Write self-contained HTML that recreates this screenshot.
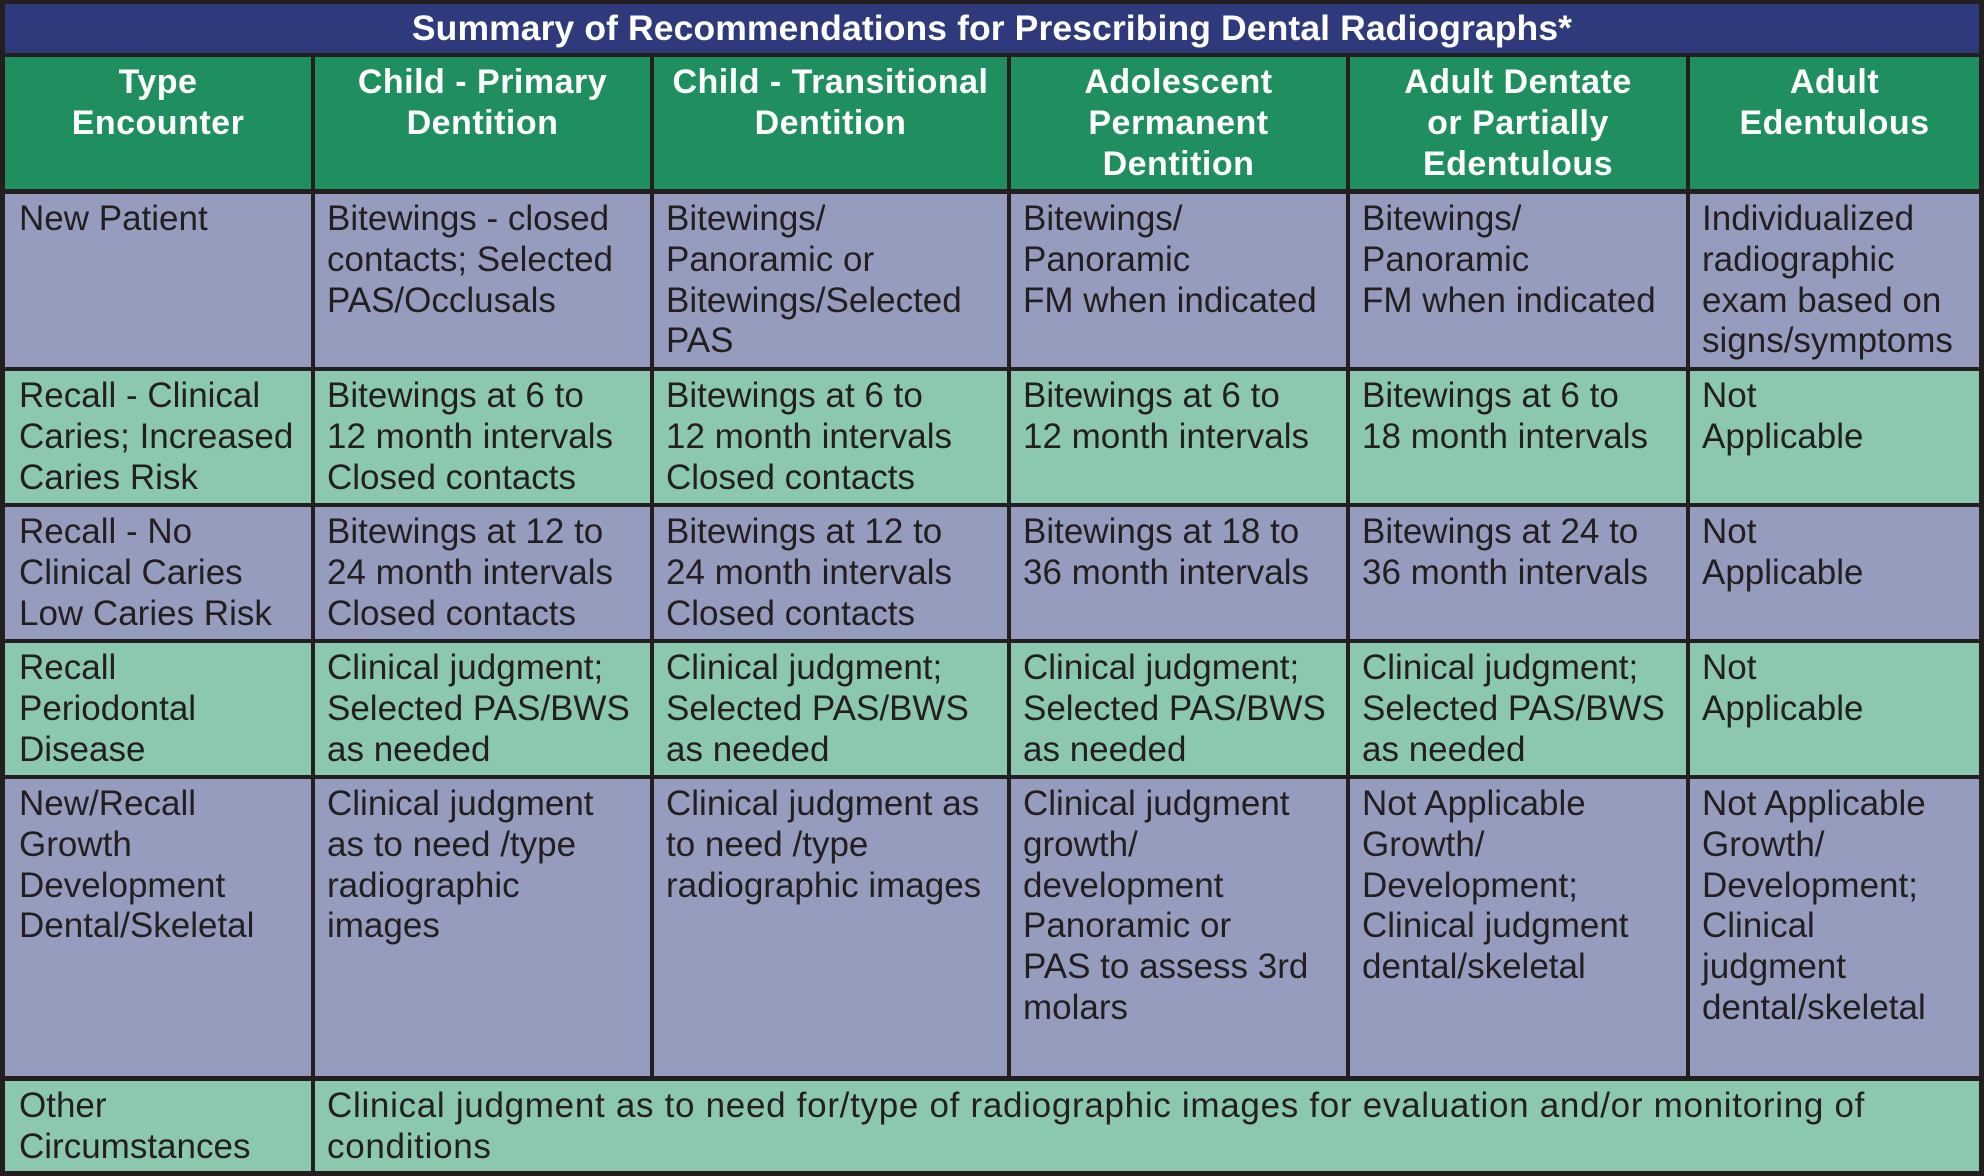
<!DOCTYPE html>
<html>
<head>
<meta charset="utf-8">
<style>
html,body{margin:0;padding:0;}
body{width:1984px;height:1176px;background:#231f20;position:relative;overflow:hidden;font-family:"Liberation Sans",Arial,sans-serif;}
.c{position:absolute;box-sizing:border-box;white-space:nowrap;overflow:hidden;}
.t{background:#2e3a7b;color:#fff;font-weight:bold;font-size:35.5px;letter-spacing:0.1px;text-align:center;line-height:49px;padding-top:0px;}
.h{background:#1f8f60;color:#fff;font-weight:bold;font-size:34px;letter-spacing:0.5px;text-align:center;line-height:41px;padding-top:5px;}
.l{background:#959cbe;}
.g{background:#8cc8ae;}
.l,.g{color:#231f20;font-size:35px;line-height:40.8px;padding:5px 0 0 12px;}
</style>
</head>
<body>
<!-- title -->
<div class="c t" style="left:5px;top:4px;width:1974px;height:49px;">Summary of Recommendations for Prescribing Dental Radiographs*</div>

<!-- header -->
<div class="c h" style="left:5px;top:57px;width:306px;height:132px;">Type<br>Encounter</div>
<div class="c h" style="left:315px;top:57px;width:335px;height:132px;">Child - Primary<br>Dentition</div>
<div class="c h" style="left:654px;top:57px;width:353px;height:132px;">Child - Transitional<br>Dentition</div>
<div class="c h" style="left:1011px;top:57px;width:335px;height:132px;">Adolescent<br>Permanent<br>Dentition</div>
<div class="c h" style="left:1350px;top:57px;width:336px;height:132px;">Adult Dentate<br>or Partially<br>Edentulous</div>
<div class="c h" style="left:1690px;top:57px;width:289px;height:132px;">Adult<br>Edentulous</div>

<!-- row 1 -->
<div class="c l" style="left:5px;top:194px;width:306px;height:173px;padding-left:14px;">New Patient</div>
<div class="c l" style="left:315px;top:194px;width:335px;height:173px;">Bitewings - closed<br>contacts; Selected<br>PAS/Occlusals</div>
<div class="c l" style="left:654px;top:194px;width:353px;height:173px;">Bitewings/<br>Panoramic or<br>Bitewings/Selected<br>PAS</div>
<div class="c l" style="left:1011px;top:194px;width:335px;height:173px;">Bitewings/<br>Panoramic<br>FM when indicated</div>
<div class="c l" style="left:1350px;top:194px;width:336px;height:173px;">Bitewings/<br>Panoramic<br>FM when indicated</div>
<div class="c l" style="left:1690px;top:194px;width:289px;height:173px;">Individualized<br>radiographic<br>exam based on<br>signs/symptoms</div>

<!-- row 2 -->
<div class="c g" style="left:5px;top:371px;width:306px;height:132px;padding-left:14px;">Recall - Clinical<br>Caries; Increased<br>Caries Risk</div>
<div class="c g" style="left:315px;top:371px;width:335px;height:132px;">Bitewings at 6 to<br>12 month intervals<br>Closed contacts</div>
<div class="c g" style="left:654px;top:371px;width:353px;height:132px;">Bitewings at 6 to<br>12 month intervals<br>Closed contacts</div>
<div class="c g" style="left:1011px;top:371px;width:335px;height:132px;">Bitewings at 6 to<br>12 month intervals</div>
<div class="c g" style="left:1350px;top:371px;width:336px;height:132px;">Bitewings at 6 to<br>18 month intervals</div>
<div class="c g" style="left:1690px;top:371px;width:289px;height:132px;">Not<br>Applicable</div>

<!-- row 3 -->
<div class="c l" style="left:5px;top:507px;width:306px;height:132px;padding-left:14px;">Recall - No<br>Clinical Caries<br>Low Caries Risk</div>
<div class="c l" style="left:315px;top:507px;width:335px;height:132px;">Bitewings at 12 to<br>24 month intervals<br>Closed contacts</div>
<div class="c l" style="left:654px;top:507px;width:353px;height:132px;">Bitewings at 12 to<br>24 month intervals<br>Closed contacts</div>
<div class="c l" style="left:1011px;top:507px;width:335px;height:132px;">Bitewings at 18 to<br>36 month intervals</div>
<div class="c l" style="left:1350px;top:507px;width:336px;height:132px;">Bitewings at 24 to<br>36 month intervals</div>
<div class="c l" style="left:1690px;top:507px;width:289px;height:132px;">Not<br>Applicable</div>

<!-- row 4 -->
<div class="c g" style="left:5px;top:643px;width:306px;height:132px;padding-left:14px;">Recall<br>Periodontal<br>Disease</div>
<div class="c g" style="left:315px;top:643px;width:335px;height:132px;">Clinical judgment;<br>Selected PAS/BWS<br>as needed</div>
<div class="c g" style="left:654px;top:643px;width:353px;height:132px;">Clinical judgment;<br>Selected PAS/BWS<br>as needed</div>
<div class="c g" style="left:1011px;top:643px;width:335px;height:132px;">Clinical judgment;<br>Selected PAS/BWS<br>as needed</div>
<div class="c g" style="left:1350px;top:643px;width:336px;height:132px;">Clinical judgment;<br>Selected PAS/BWS<br>as needed</div>
<div class="c g" style="left:1690px;top:643px;width:289px;height:132px;">Not<br>Applicable</div>

<!-- row 5 -->
<div class="c l" style="left:5px;top:779px;width:306px;height:297px;padding-left:14px;">New/Recall<br>Growth<br>Development<br>Dental/Skeletal</div>
<div class="c l" style="left:315px;top:779px;width:335px;height:297px;">Clinical judgment<br>as to need /type<br>radiographic<br>images</div>
<div class="c l" style="left:654px;top:779px;width:353px;height:297px;">Clinical judgment as<br>to need /type<br>radiographic images</div>
<div class="c l" style="left:1011px;top:779px;width:335px;height:297px;">Clinical judgment<br>growth/<br>development<br>Panoramic or<br>PAS to assess 3rd<br>molars</div>
<div class="c l" style="left:1350px;top:779px;width:336px;height:297px;">Not Applicable<br>Growth/<br>Development;<br>Clinical judgment<br>dental/skeletal</div>
<div class="c l" style="left:1690px;top:779px;width:289px;height:297px;">Not Applicable<br>Growth/<br>Development;<br>Clinical<br>judgment<br>dental/skeletal</div>

<!-- row 6 -->
<div class="c g" style="left:5px;top:1081px;width:306px;height:90px;padding-left:14px;">Other<br>Circumstances</div>
<div class="c g" style="left:315px;top:1081px;width:1664px;height:90px;letter-spacing:0.7px;">Clinical judgment as to need for/type of radiographic images for evaluation and/or monitoring of<br>conditions</div>
</body>
</html>
